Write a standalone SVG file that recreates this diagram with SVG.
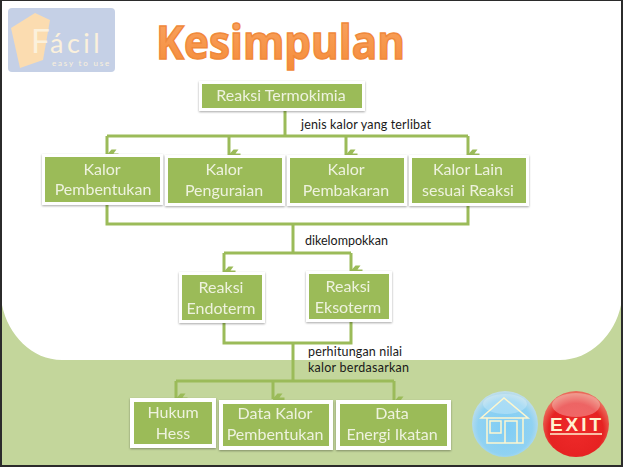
<svg xmlns="http://www.w3.org/2000/svg" width="623" height="467" viewBox="0 0 623 467">
<style>
.box{fill:#9bbb59;stroke:#fff;stroke-width:3}
.thick{stroke-width:4}
.nt{font-family:"Lato","Liberation Sans",sans-serif;font-size:16px;fill:#eef2de;text-anchor:middle}
.lb{font-family:"Lato","Liberation Sans",sans-serif;font-size:12.5px;fill:#1a1a1a}
.ln{fill:none;stroke:#9bbb59;stroke-width:3}
.ti{font-family:"Open Sans","Liberation Sans",sans-serif;font-weight:700;font-size:46px;fill:url(#og);stroke:#f0893a;stroke-width:1.500}
.lg{font-family:"Lato","Liberation Sans",sans-serif;fill:#fbf1dc}
</style>
<defs>
<filter id="sh" x="-15%" y="-25%" width="130%" height="150%"><feDropShadow dx="0" dy="1" stdDeviation="1.2" flood-color="#000" flood-opacity=".35"/></filter>
<linearGradient id="og" x1="0" y1="0" x2="0" y2="1"><stop offset="0" stop-color="#f9a666"/><stop offset="1" stop-color="#f58b38"/></linearGradient>
<radialGradient id="bl" cx=".5" cy=".55" r=".55"><stop offset="0" stop-color="#7fcdf5"/><stop offset=".75" stop-color="#90d2f2"/><stop offset="1" stop-color="#c3dfea"/></radialGradient>
<radialGradient id="rd" cx=".5" cy=".6" r=".55"><stop offset="0" stop-color="#ee2a2a"/><stop offset=".75" stop-color="#e62222"/><stop offset="1" stop-color="#ea6a5a"/></radialGradient>
<marker id="ar" viewBox="0 0 12 12" refX="6" refY="11.500" markerWidth="12" markerHeight="12" markerUnits="userSpaceOnUse" orient="auto-start-reverse"><path d="M0.500 2 L4.500 5 V0 H7.500 V5 L11.500 2 V7 L6 12 L0.500 7 Z" fill="#9bbb59"/></marker>
</defs>
<rect width="623" height="467" fill="#2b2b2b"/>
<rect x="2" y="1" width="619" height="464" fill="#fff"/>
<path id="band" d="M2 305 C8 335 32 360 62 360 H560 C590 360 615 335 621 305 V465 H2 Z" fill="#c3d69b"/>
<g id="connectors">
<path class="ln" d="M285 111 V136 M107 136 H468"/>
<path class="ln" marker-end="url(#ar)" d="M107 136 V155"/>
<path class="ln" marker-end="url(#ar)" d="M229 136 V155"/>
<path class="ln" marker-end="url(#ar)" d="M346 136 V155"/>
<path class="ln" marker-end="url(#ar)" d="M468 136 V155"/>
<path class="ln" d="M107 205 V224 H468 V206 M293 224 V253 M224 253 H351"/>
<path class="ln" marker-end="url(#ar)" d="M224 253 V272"/>
<path class="ln" marker-end="url(#ar)" d="M351 253 V271"/>
<path class="ln" d="M224 323 V343 H351 V322 M293 343 V381 M176 381 H394"/>
<path class="ln" marker-end="url(#ar)" d="M176 381 V399"/>
<path class="ln" marker-end="url(#ar)" d="M273 381 V399"/>
<path class="ln" marker-end="url(#ar)" d="M394 381 V402"/>
</g>
<g id="logo">
<rect x="8" y="8" width="107" height="64" rx="4" fill="#c5d0e6"/>
<path d="M11 28 L35 13 L50 20 L43 60 L20 68 Z" fill="#fbdcb0"/>
<text class="lg" x="31" y="53" font-size="33" fill="#fff">F</text>
<text class="lg" x="50" y="53" font-size="27" letter-spacing="3.500">ácil</text>
<text class="lg" x="52" y="66" font-size="8" letter-spacing="1.800">easy to use</text>
</g>
<g id="title"><text class="ti" x="156" y="59" textLength="249" lengthAdjust="spacingAndGlyphs">Kesimpulan</text></g>
<g id="n1" filter="url(#sh)"><rect class="box" x="200.500" y="82.500" width="163" height="27"/><text class="nt" x="281" y="101">Reaksi Termokimia</text></g>
<g id="n2" filter="url(#sh)"><rect class="box" x="43.500" y="155.500" width="118" height="48"/><text class="nt" x="102" y="175">Kalor</text><text class="nt" x="103" y="195">Pembentukan</text></g>
<g id="n3" filter="url(#sh)"><rect class="box" x="166.500" y="156.500" width="117" height="48"/><text class="nt" x="224" y="175">Kalor</text><text class="nt" x="224" y="196">Penguraian</text></g>
<g id="n4" filter="url(#sh)"><rect class="box" x="288.500" y="156.500" width="117" height="48"/><text class="nt" x="346" y="175">Kalor</text><text class="nt" x="346" y="196">Pembakaran</text></g>
<g id="n5" filter="url(#sh)"><rect class="box" x="410.500" y="156.500" width="117" height="48"/><text class="nt" x="468" y="175">Kalor Lain</text><text class="nt" x="468" y="196">sesuai Reaksi</text></g>
<g id="n6" filter="url(#sh)"><rect class="box" x="180.500" y="273.500" width="83" height="48"/><text class="nt" x="221" y="293">Reaksi</text><text class="nt" x="221" y="314">Endoterm</text></g>
<g id="n7" filter="url(#sh)"><rect class="box" x="307.500" y="272.500" width="83" height="48"/><text class="nt" x="348" y="292">Reaksi</text><text class="nt" x="348" y="313">Eksoterm</text></g>
<g id="n8" filter="url(#sh)"><rect class="box thick" x="132" y="400" width="82" height="46"/><text class="nt" x="173" y="418">Hukum</text><text class="nt" x="173" y="439">Hess</text></g>
<g id="n9" filter="url(#sh)"><rect class="box thick" x="221" y="402" width="110" height="46"/><text class="nt" x="275" y="419">Data Kalor</text><text class="nt" x="275" y="440">Pembentukan</text></g>
<g id="n10" filter="url(#sh)"><rect class="box thick" x="338" y="402" width="111" height="46"/><text class="nt" x="392" y="419">Data</text><text class="nt" x="392" y="440">Energi Ikatan</text></g>
<g id="labels">
<text class="lb" x="301" y="129" textLength="130">jenis kalor yang terlibat</text>
<text class="lb" x="305" y="245">dikelompokkan</text>
<text class="lb" x="308" y="356" textLength="94">perhitungan nilai</text>
<text class="lb" x="308" y="372" textLength="101">kalor berdasarkan</text>
</g>
<g id="home">
<circle cx="505" cy="424" r="33" fill="url(#bl)"/>
<ellipse cx="505" cy="404" rx="22" ry="10" fill="#fff" opacity=".25"/>
<path d="M481 418 L504 398 L528 418 Z M487 418 V443 H523 V418 M490 421 H501 V433 H490 Z M505 421 H517 V443 H505 Z" fill="none" stroke="#fdf6cf" stroke-width="1.500"/>
</g>
<g id="exit">
<circle cx="576" cy="424" r="33" fill="url(#rd)"/>
<ellipse cx="576" cy="405" rx="24" ry="12" fill="#fff" opacity=".3"/>
<text x="577" y="431" text-anchor="middle" font-family="Liberation Sans,sans-serif" font-weight="700" font-size="19" letter-spacing="3" fill="#fff2d0">EXIT</text>
<path d="M550 434 H602" stroke="#fff2d0" stroke-width="1.500"/>
</g>
</svg>
